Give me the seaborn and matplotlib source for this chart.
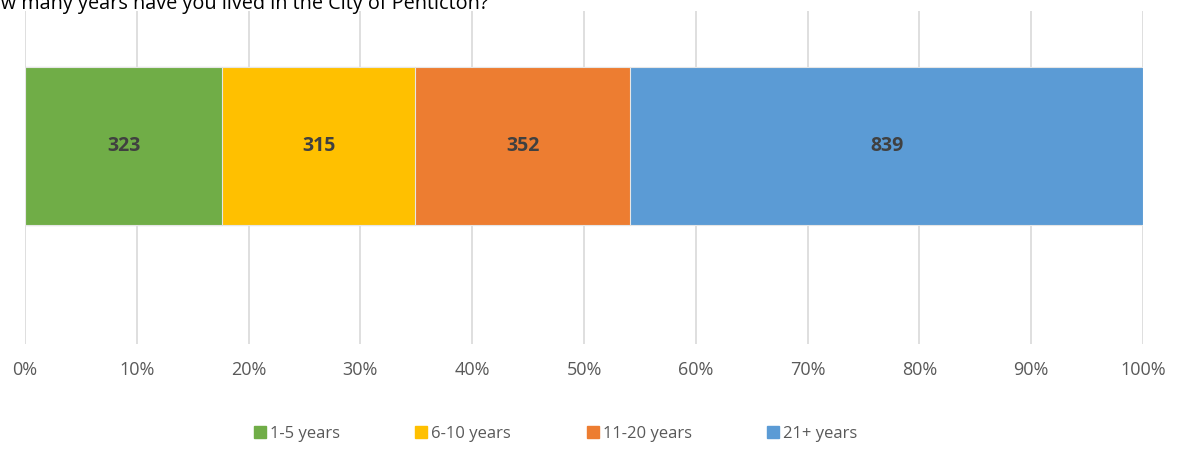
import matplotlib
matplotlib.use("Agg")
import matplotlib.pyplot as plt
import seaborn as sns
import numpy as np
from matplotlib.lines import Line2D

# survey data
categories = ["1-5 years", "6-10 years", "11-20 years", "21+ years"]
counts = [323, 315, 352, 839]
colors = ["#70AD47", "#FFC000", "#ED7D31", "#5B9BD5"]
xticks = [0, 10, 20, 30, 40, 50, 60, 70, 80, 90, 100]
question = "How many years have you lived in the City of Penticton?"

sns.set_theme(style="white")
plt.rcParams["font.family"] = ["Open Sans", "DejaVu Sans"]

total = sum(counts)
pct = np.array(counts) / total * 100
cum = np.cumsum(pct)
starts = cum - pct

fig = plt.figure(figsize=(11.8, 4.49), dpi=100)
ax = fig.add_axes([25 / 1180, 1 - 344 / 449, (1143 - 25) / 1180, (344 - 11) / 449])

# stacked bar: draw cumulative totals from largest to smallest
for i in reversed(range(len(categories))):
    sns.barplot(x=[cum[i]], y=["q"], color=colors[i], orient="h", width=1.0,
                edgecolor="#e6e6e6", linewidth=0.8, saturation=1, ax=ax, zorder=2)

for s, p, c in zip(starts, pct, counts):
    ax.text(s + p / 2, 0, str(c), ha="center", va="center", fontsize=14,
            fontweight="bold", color="#404040", zorder=3)

ax.set_xlim(0, 100)
ax.set_ylim(198 / 158, -135 / 158)
ax.set_xticks(xticks)
ax.set_xticklabels([f"{t}%" for t in xticks], fontsize=13, color="#595959")
ax.set_yticks([])
ax.set_xlabel("")
ax.set_ylabel("")
ax.tick_params(axis="x", length=0, pad=12)
ax.grid(axis="x", color="#d9d9d9", linewidth=1.2, zorder=0)
ax.set_axisbelow(True)
for sp in ax.spines.values():
    sp.set_visible(False)

handles = [Line2D([0], [0], marker="s", linestyle="", markersize=9,
                  markerfacecolor=c, markeredgecolor=c) for c in colors]
leg = fig.legend(handles, categories, loc="center", bbox_to_anchor=(556 / 1180, 1 - 434 / 449),
                 ncol=4, frameon=False, fontsize=12, handlelength=0.6, handletextpad=0.3,
                 columnspacing=4.6)
for t in leg.get_texts():
    t.set_color("#595959")

fig.text(-26 / 1180, 1 - 9 / 449, question, ha="left", va="baseline",
         fontsize=14.3, color="black")

fig.savefig("out.png", dpi=100)
